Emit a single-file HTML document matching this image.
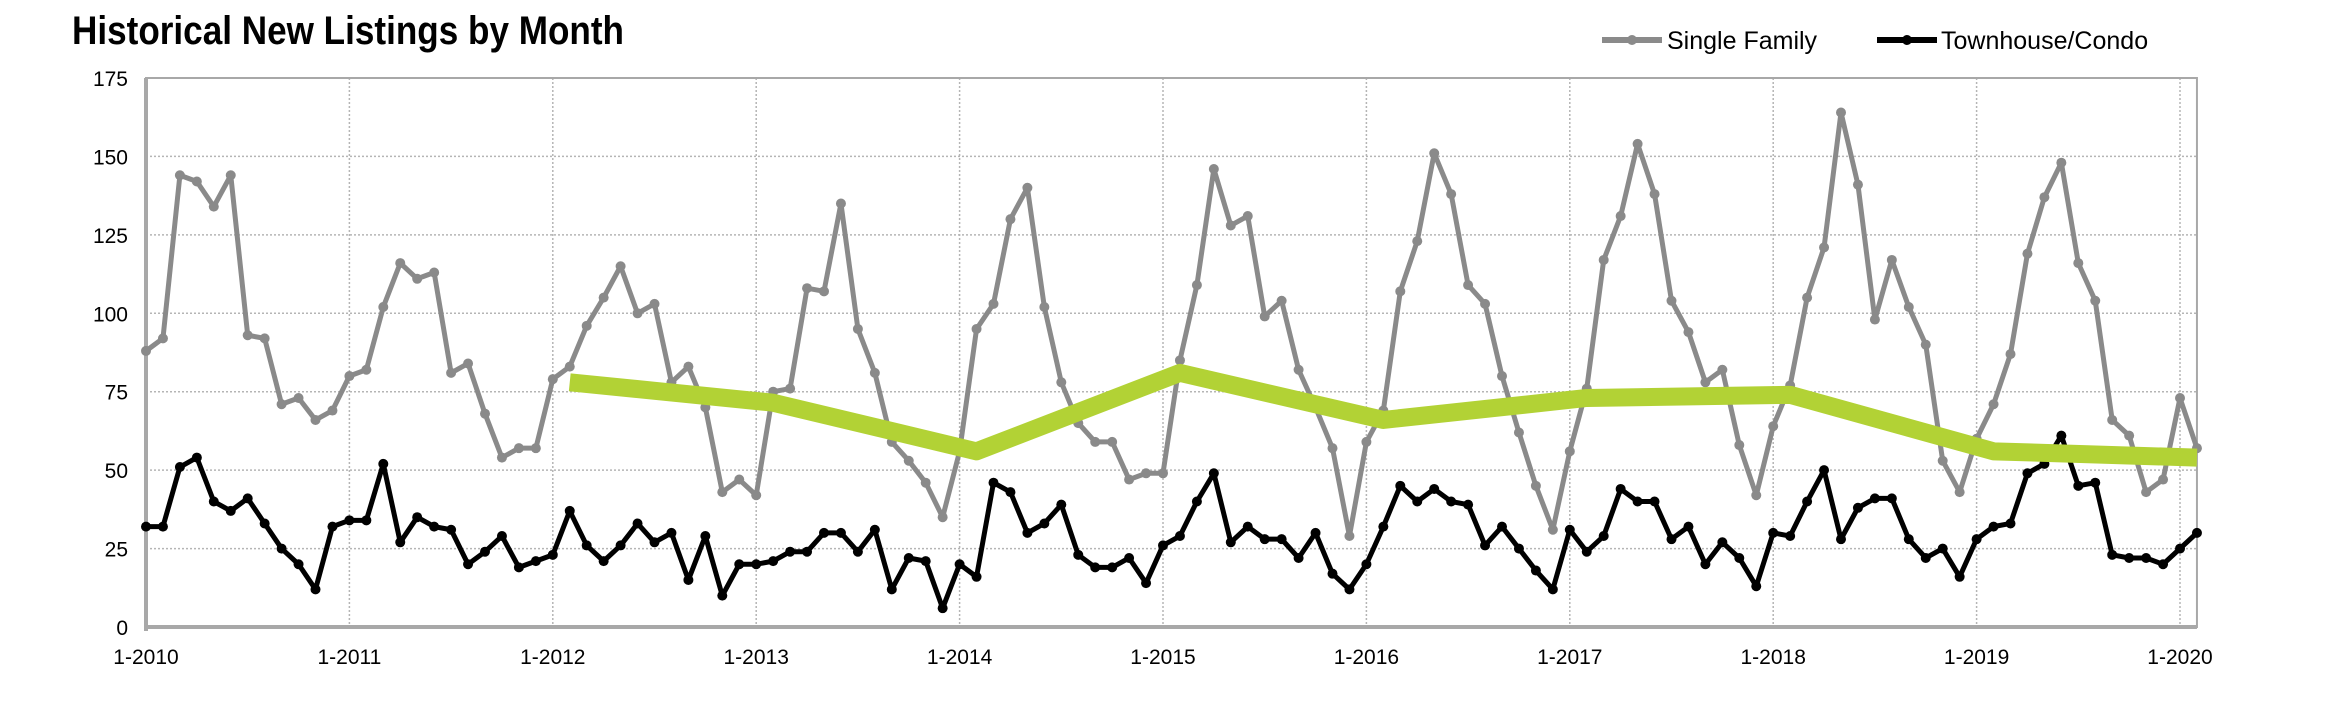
<!DOCTYPE html>
<html><head><meta charset="utf-8"><style>
html,body{margin:0;padding:0;background:#fff;width:2352px;height:710px;overflow:hidden}
svg text{font-family:"Liberation Sans",Arial,sans-serif}
</style></head><body>
<svg id="chart" width="2352" height="710" xmlns="http://www.w3.org/2000/svg">
<text x="72" y="44" font-family="Liberation Sans Narrow, Liberation Sans, sans-serif" font-weight="bold" font-size="40" fill="#000" textLength="552" lengthAdjust="spacingAndGlyphs">Historical New Listings by Month</text>
<g>
<g>
<line x1="1602" y1="40" x2="1662" y2="40" stroke="#8a8a8a" stroke-width="6"/><circle cx="1632" cy="40" r="5" fill="#8a8a8a"/>
<text x="1667" y="49" font-size="25" fill="#000">Single Family</text></g>
<g>
<line x1="1877" y1="40" x2="1937" y2="40" stroke="#000" stroke-width="6"/><circle cx="1907" cy="40" r="5" fill="#000"/>
<text x="1941" y="49" font-size="25" fill="#000">Townhouse/Condo</text></g>
</g>
<g id="grid"></g><g id="axes"></g><g id="series"></g>
</svg>
<script>
const yTicks=[0,25,50,75,100,125,150,175];
const xTickLabels=["1-2010","1-2011","1-2012","1-2013","1-2014","1-2015","1-2016","1-2017","1-2018","1-2019","1-2020"];
const singleFamily=[88,92,144,142,134,144,93,92,71,73,66,69,
80,82,102,116,111,113,81,84,68,54,57,57,
79,83,96,105,115,100,103,78,83,70,43,47,
42,75,76,108,107,135,95,81,59,53,46,35,
56,95,103,130,140,102,78,65,59,59,47,49,
49,85,109,146,128,131,99,104,82,70,57,29,
59,69,107,123,151,138,109,103,80,62,45,31,
56,76,117,131,154,138,104,94,78,82,58,42,
64,77,105,121,164,141,98,117,102,90,53,43,
60,71,87,119,137,148,116,104,66,61,43,47,
73,57];
const townhouse=[32,32,51,54,40,37,41,33,25,20,12,32,
34,34,52,27,35,32,31,20,24,29,19,21,
23,37,26,21,26,33,27,30,15,29,10,20,
20,21,24,24,30,30,24,31,12,22,21,6,
20,16,46,43,30,33,39,23,19,19,22,14,
26,29,40,49,27,32,28,28,22,30,17,12,
20,32,45,40,44,40,39,26,32,25,18,12,
31,24,29,44,40,40,28,32,20,27,22,13,
30,29,40,50,28,38,41,41,28,22,25,16,
28,32,33,49,52,61,45,46,23,22,22,20,
25,30];
const trendMonths=[25,37,49,61,73,85,97,109,121];
const trendValues=[78,71.5,56,81,66,73,74,56,54];

const NS="http://www.w3.org/2000/svg";
const L=146,STEP=16.95,T=78,B=627,YMAX=175;
const R=L+STEP*121;
const xs=i=>L+i*STEP;
const ys=v=>B-(v/YMAX)*(B-T);
function mk(tag,attrs,parent){const e=document.createElementNS(NS,tag);for(const k in attrs)e.setAttribute(k,attrs[k]);parent.appendChild(e);return e;}
const grid=document.getElementById('grid'),axes=document.getElementById('axes'),series=document.getElementById('series');

yTicks.forEach(v=>{
  if(v>0&&v<YMAX){const g=mk('line',{x1:L,x2:R,y1:ys(v),y2:ys(v),stroke:'#b5b5b5','stroke-width':1.5,'stroke-dasharray':'2,2'},grid);
  
  }
  const t=mk('text',{x:L-18,y:ys(v)+8,'text-anchor':'end','font-size':21,fill:'#000'},axes);
  
  
  t.textContent=v;
});
xTickLabels.forEach((lab,k)=>{
  const x=xs(k*12);
  if(k>0){const g=mk('line',{x1:x,x2:x,y1:T,y2:B,stroke:'#b5b5b5','stroke-width':1.5,'stroke-dasharray':'2,2'},grid);
  
  }
  const t=mk('text',{x:x,y:B+37,'text-anchor':'middle','font-size':21,fill:'#000'},axes);
  
  
  t.textContent=lab;
});
const frame=mk('rect',{x:L,y:T,width:R-L,height:B-T,fill:'none',stroke:'#a8a8a8','stroke-width':2},axes);


const ya=mk('line',{x1:L,x2:L,y1:T,y2:B+4,stroke:'#a8a8a8','stroke-width':4},axes);


const xa=mk('line',{x1:L,x2:R,y1:B,y2:B,stroke:'#a8a8a8','stroke-width':4},axes);



function drawSeries(vals,color,name){
  const g=mk('g',{},series);
  
  
  const p=mk('polyline',{points:vals.map((v,i)=>xs(i)+','+ys(v)).join(' '),fill:'none',stroke:color,'stroke-width':5,'stroke-linejoin':'round'},g);
  
  
  vals.forEach((v,i)=>{const c=mk('circle',{cx:xs(i),cy:ys(v),r:5,fill:color},g);
  
  });
}
drawSeries(singleFamily,'#8a8a8a','single-family');
drawSeries(townhouse,'#000','townhouse-condo');
const tr=mk('polyline',{points:trendMonths.map((m,i)=>xs(m)+','+ys(trendValues[i])).join(' '),fill:'none',stroke:'#b2d235','stroke-width':18,'stroke-linejoin':'round'},series);


</script>
</body></html>
